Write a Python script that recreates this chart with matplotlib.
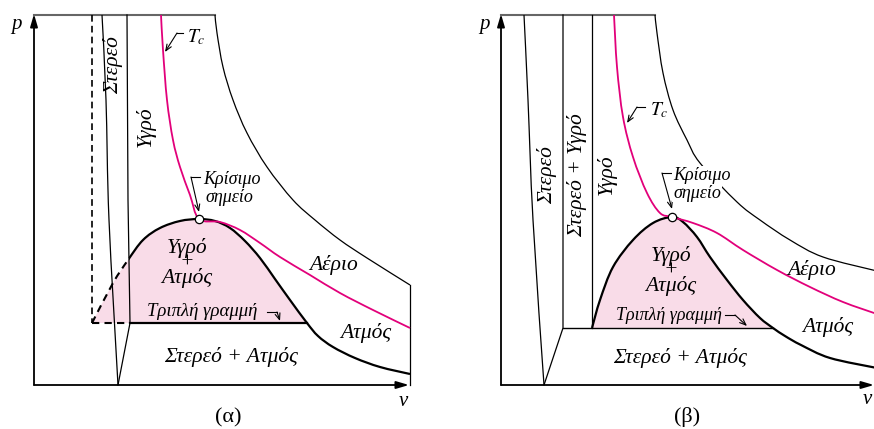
import numpy as np
import matplotlib
matplotlib.use('Agg')
import matplotlib.pyplot as plt
from matplotlib.path import Path
from matplotlib.patches import PathPatch, Rectangle

plt.rcParams['font.family'] = ['Liberation Serif', 'DejaVu Serif']
plt.rcParams['mathtext.fontset'] = 'stix'

MAGENTA = '#e2007a'
PINK = '#f9dce8'

# ---- panel (a): substance that contracts on freezing ----
# curves as (v, p) points, arbitrary units, origin at the axes corner
a_top_p = 370
a_top_end = 181
a_hot = [(181, 370), (183, 352), (189, 318), (199, 285), (213, 252), (233, 218),
         (259, 185), (281, 165), (306, 145), (333, 127), (376, 100)]
a_right = [(376, 100), (376, 0)]
a_tc = [(127, 370), (129, 335), (133, 285), (139, 245), (146, 218), (156, 190),
        (165, 166), (186, 163), (206, 155), (226, 142), (246, 128), (276, 110),
        (306, 92), (339, 75), (376, 57)]
a_dome = [(58, 62), (79, 102), (94, 125), (109, 145), (126, 157), (146, 164),
          (165, 166), (181, 164), (196, 157), (211, 144), (226, 127), (241, 106),
          (256, 85), (273, 62), (284, 49), (299, 38), (321, 27), (346, 18), (376, 11)]
a_crit = (165, 166)
a_solid_left = [(68, 370), (72, 285), (75, 165), (84, 0)]
a_solid_right = [(93, 370), (94, 185), (96, 62)]
a_triple_p = 62
a_triple_v = (58, 96, 273)   # dashed start, solid start, end
a_dash_v = 58

# ---- panel (b): substance that expands on freezing ----
b_top_p = 370
b_top_end = 154
b_hot = [(154, 370), (156, 352), (162, 312), (172, 275), (186, 245), (199, 222),
         (236, 183), (259, 165), (289, 145), (322, 128), (376, 114)]
b_tc = [(113, 370), (116, 318), (122, 268), (132, 228), (146, 192), (159, 172),
        (171, 168), (192, 162), (216, 152), (242, 135), (276, 115), (309, 98),
        (342, 83), (376, 71)]
b_dome = [(91, 57), (99, 85), (112, 118), (132, 145), (152, 162), (171, 168),
          (182, 163), (196, 148), (209, 128), (226, 105), (242, 85), (259, 67),
          (272, 57), (284, 49), (300, 40), (329, 27), (376, 17)]
b_crit = (171, 168)
b_solid_left = [(23, 370), (27, 285), (32, 165), (43, 0)]
b_mix_v = 62
b_liq_v = 91
b_triple_p = 57
b_triple_end = 272


def smooth_path(pts):
    # Catmull-Rom through the points, handed to matplotlib as cubic Beziers
    pts = np.asarray(pts, float)
    verts = [pts[0]]
    codes = [Path.MOVETO]
    n = len(pts)
    for i in range(n - 1):
        p0 = pts[i - 1] if i > 0 else pts[i]
        p1, p2 = pts[i], pts[i + 1]
        p3 = pts[i + 2] if i + 2 < n else pts[i + 1]
        verts += [p1 + (p2 - p0) / 6, p2 - (p3 - p1) / 6, p2]
        codes += [Path.CURVE4] * 3
    return verts, codes


def draw_curve(ax, pts, clip=None, **kw):
    verts, codes = smooth_path(pts)
    patch = PathPatch(Path(verts, codes), fill=False, **kw)
    ax.add_patch(patch)
    if clip is not None:
        patch.set_clip_path(Rectangle(clip[:2], clip[2], clip[3], transform=ax.transData))
    return patch


def fill_dome(ax, pts, p_triple):
    verts, codes = smooth_path(pts)
    verts = verts + [verts[0], verts[0]]
    codes = codes + [Path.LINETO, Path.CLOSEPOLY]
    patch = PathPatch(Path(verts, codes), facecolor=PINK, edgecolor='none', zorder=1)
    ax.add_patch(patch)
    patch.set_clip_path(Rectangle((-100, p_triple), 600, 500, transform=ax.transData))


def axes_arrows(ax, v_end):
    ap = dict(arrowstyle='-|>,head_width=0.22,head_length=0.75', lw=1.3,
              color='black', shrinkA=0, shrinkB=0)
    ax.annotate('', xy=(0, 371), xytext=(0, 0), arrowprops=ap, zorder=5)
    ax.annotate('', xy=(v_end, 0), xytext=(0, 0), arrowprops=ap, zorder=5)


def leader(ax, pts, tip):
    xs, ys = zip(*pts)
    ax.plot(xs, ys, color='black', lw=0.8, zorder=6)
    ax.annotate('', xy=tip, xytext=pts[-1],
                arrowprops=dict(arrowstyle='->,head_width=0.18,head_length=0.45',
                                lw=0.8, color='black', shrinkA=0, shrinkB=0), zorder=6)


def label(ax, v, p, s, size=15.5, **kw):
    kw.setdefault('ha', 'center')
    kw.setdefault('va', 'center')
    ax.text(v, p, s, fontsize=size, style='italic', zorder=7, **kw)


fig = plt.figure(figsize=(8.74, 4.29), dpi=100)
ax_a = fig.add_axes([0, 0, 0.5, 1])
ax_b = fig.add_axes([0.5, 0, 0.5, 1])
ax_a.set_xlim(-34, 403)
ax_b.set_xlim(-64, 373)
for ax in (ax_a, ax_b):
    ax.set_ylim(-44, 385)
    ax.axis('off')

# panel (a)
ax = ax_a
fill_dome(ax, a_dome, a_triple_p)
ax.plot([0, a_top_end], [a_top_p, a_top_p], color='#666666', lw=1.5, zorder=3)
draw_curve(ax, a_hot, color='black', lw=0.9, zorder=3)
ax.plot(*zip(*a_right), color='black', lw=0.9, zorder=3)
draw_curve(ax, a_solid_left, color='black', lw=0.9, zorder=3)
ax.plot(*zip(*(a_solid_right + [a_solid_left[-1]])), color='black', lw=0.9, zorder=3)
ax.plot([a_dash_v, a_dash_v], [a_top_p, a_triple_p], color='black', lw=1.2,
        ls=(0, (4, 2.5)), zorder=3)
ax.plot(a_triple_v[:2], [a_triple_p] * 2, color='black', lw=1.5, ls=(0, (3.5, 2.5)), zorder=3)
ax.plot(a_triple_v[1:], [a_triple_p] * 2, color='black', lw=1.6, zorder=3)
draw_curve(ax, a_dome, clip=(-100, -100, 195, 600), color='black', lw=1.5,
           ls=(0, (3.5, 2.5)), zorder=4)
draw_curve(ax, a_dome, clip=(95, -100, 400, 600), color='black', lw=1.6, zorder=4)
draw_curve(ax, a_tc, color=MAGENTA, lw=1.3, zorder=4)
ax.plot(*a_crit, 'o', ms=6, mfc='white', mec='black', mew=0.9, zorder=6)
axes_arrows(ax, 375)

label(ax, 79, 320, 'Στερεό', rotation=90)
label(ax, 112, 258, 'Υγρό', rotation=90)
ax.text(153, 348, r'$T_c$', fontsize=14, ha='left', va='center', zorder=7)
leader(ax, [(149, 352), (143, 352)], (131, 333))
label(ax, 169, 205, 'Κρίσιμο', size=13, ha='left')
label(ax, 171, 187, 'σημείο', size=13, ha='left')
leader(ax, [(166, 208), (157, 208)], (165, 173))
label(ax, 153, 122, 'Υγρό\n+\nΑτμός', multialignment='center', linespacing=0.72)
label(ax, 113, 73, 'Τριπλή γραμμή', size=13.5, ha='left')
leader(ax, [(233, 73), (243, 73)], (246, 64))
label(ax, 197, 28, 'Στερεό + Ατμός')
label(ax, 300, 120, 'Αέριο')
label(ax, 332, 52, 'Ατμός')
label(ax, -18, 360, 'p', size=15)
label(ax, 369, -16, 'v', size=15)
ax.text(194, -33, '(α)', fontsize=16, ha='center', va='center')

# panel (b)
ax = ax_b
fill_dome(ax, b_dome, b_triple_p)
ax.plot([0, b_top_end], [b_top_p, b_top_p], color='#666666', lw=1.5, zorder=3)
draw_curve(ax, b_hot, color='black', lw=0.9, zorder=3)
draw_curve(ax, b_solid_left, color='black', lw=0.9, zorder=3)
ax.plot([b_mix_v, b_mix_v, b_solid_left[-1][0]], [b_top_p, b_triple_p, 0],
        color='black', lw=0.9, zorder=3)
ax.plot([b_liq_v, b_liq_v], [b_top_p, b_triple_p], color='black', lw=0.9, zorder=3)
ax.plot([b_mix_v, b_triple_end], [b_triple_p] * 2, color='black', lw=1.0, zorder=3)
draw_curve(ax, b_dome, color='black', lw=1.6, zorder=4)
draw_curve(ax, b_tc, color=MAGENTA, lw=1.3, zorder=4)
ax.plot(*b_crit, 'o', ms=6, mfc='white', mec='black', mew=0.9, zorder=6)
axes_arrows(ax, 373)

label(ax, 46, 210, 'Στερεό', rotation=90)
label(ax, 76, 210, 'Στερεό + Υγρό', rotation=90)
label(ax, 106, 210, 'Υγρό', rotation=90)
ax.text(149, 275, r'$T_c$', fontsize=14, ha='left', va='center', zorder=7)
leader(ax, [(144, 278), (136, 278)], (126, 262))
box = dict(facecolor='white', edgecolor='none', pad=0.6)
label(ax, 172, 210, 'Κρίσιμο', size=13, ha='left', bbox=box)
label(ax, 172, 192, 'σημείο', size=13, ha='left', bbox=box)
leader(ax, [(171, 212), (161, 212)], (171, 176))
label(ax, 170, 114, 'Υγρό\n+\nΑτμός', multialignment='center', linespacing=0.72)
label(ax, 115, 70, 'Τριπλή γραμμή', size=13, ha='left')
leader(ax, [(224, 70), (234, 70)], (246, 59))
label(ax, 179, 27, 'Στερεό + Ατμός')
label(ax, 311, 115, 'Αέριο')
label(ax, 327, 58, 'Ατμός')
label(ax, -17, 361, 'p', size=15)
label(ax, 366, -14, 'v', size=15)
ax.text(186, -32, '(β)', fontsize=16, ha='center', va='center')

fig.savefig('out.png', dpi=100)
